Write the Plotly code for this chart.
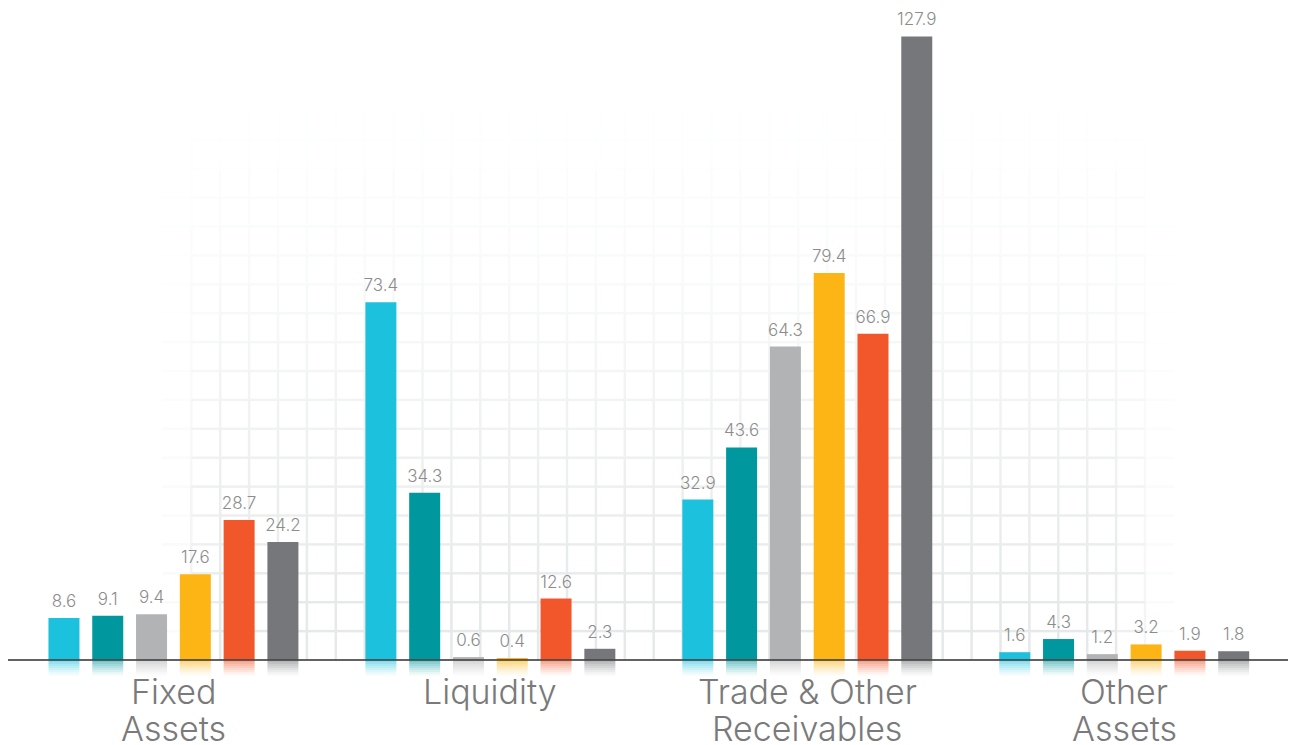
import numpy as np
import plotly.graph_objects as go

# ---------------- data ----------------
categories = ["Fixed Assets", "Liquidity", "Trade & Other Receivables", "Other Assets"]
label_line1 = ["Fixed", "Liquidity", "Trade & Other", "Other"]
label_line2 = ["Assets", "", "Receivables", "Assets"]

series_names = ["Series 1", "Series 2", "Series 3", "Series 4", "Series 5", "Series 6"]
series_1 = [8.6, 73.4, 32.9, 1.6]
series_2 = [9.1, 34.3, 43.6, 4.3]
series_3 = [9.4, 0.6, 64.3, 1.2]
series_4 = [17.6, 0.4, 79.4, 3.2]
series_5 = [28.7, 12.6, 66.9, 1.9]
series_6 = [24.2, 2.3, 127.9, 1.8]
series_values = [series_1, series_2, series_3, series_4, series_5, series_6]

colors = ["#1CC1DE", "#00979F", "#B2B3B5", "#FDB515", "#F1572A", "#76777B"]

# ---------------- style ----------------
# the page places the figure 8px from the top-left corner (default body margin)
W, H = 1288, 737
FONT = "Inter"
PX_PER_UNIT = 4.875
BASE_PX = 652
Y_RANGE = [-(H - BASE_PX) / PX_PER_UNIT, BASE_PX / PX_PER_UNIT]
X_RANGE = [-0.522, 3.542]
REFL_UNITS = 16 / PX_PER_UNIT
REFL_STEPS = 8
LABEL_GAP_UNITS = 4 / PX_PER_UNIT


def hex_rgb(h):
    h = h.lstrip("#")
    return tuple(int(h[i:i + 2], 16) for i in (0, 2, 4))


fig = go.Figure()

# ---------------- faint fading background grid (pixel axes x / y) ----------------
step = 28.9
vx = 183.3 + step * np.arange(-1, 35)
hy = BASE_PX - step * np.arange(0, 21)
grid_rgb = (230, 233, 233)
NQ = 16


def grid_alpha(x, y):
    ax = np.clip((x - 155) / 50, 0, 1) * np.clip((1165 - x) / 60, 0, 1)
    ay = np.clip((y - 62) / 540, 0, 1) ** 1.4
    return float(ax * ay)


levels = {}
for x in vx:
    for j in range(len(hy) - 1):
        a = grid_alpha(x, (hy[j] + hy[j + 1]) / 2)
        q = int(round(a * NQ))
        if q <= 0:
            continue
        levels.setdefault(q, ([], []))
        levels[q][0].extend([x, x, None])
        levels[q][1].extend([hy[j], hy[j + 1], None])
for y in hy[1:]:
    for i in range(len(vx) - 1):
        a = grid_alpha((vx[i] + vx[i + 1]) / 2, y)
        q = int(round(a * NQ))
        if q <= 0:
            continue
        levels.setdefault(q, ([], []))
        levels[q][0].extend([vx[i], vx[i + 1], None])
        levels[q][1].extend([y, y, None])

for q, (xs, ys) in sorted(levels.items()):
    a = q / NQ
    c = tuple(int(round(255 * (1 - a) + g * a)) for g in grid_rgb)
    fig.add_trace(go.Scatter(
        x=xs, y=ys, mode="lines", xaxis="x", yaxis="y",
        line=dict(color="rgb(%d,%d,%d)" % c, width=2.5),
        hoverinfo="skip", showlegend=False,
    ))

# ---------------- bars (overlay axes x2 / y2) ----------------
for i, (name, vals, col) in enumerate(zip(series_names, series_values, colors)):
    r, g, b = hex_rgb(col)
    # reflections below the baseline
    for k in range(REFL_STEPS):
        op = 0.55 * (1 - k / REFL_STEPS) ** 1.3
        seg = REFL_UNITS / REFL_STEPS
        fig.add_trace(go.Bar(
            x=categories, y=[seg] * len(vals), base=[-(k + 1) * seg] * len(vals),
            xaxis="x2", yaxis="y2", offsetgroup=str(i),
            marker=dict(color="rgba(%d,%d,%d,%.3f)" % (r, g, b, op), line=dict(width=0)),
            hoverinfo="skip", showlegend=False,
        ))
    fig.add_trace(go.Bar(
        x=categories, y=vals, name=name, xaxis="x2", yaxis="y2", offsetgroup=str(i),
        marker=dict(color=col, line=dict(width=0)),
        showlegend=False,
    ))
    # transparent spacer carrying the value label a little above the bar
    fig.add_trace(go.Bar(
        x=categories, y=[LABEL_GAP_UNITS] * len(vals), base=vals,
        xaxis="x2", yaxis="y2", offsetgroup=str(i),
        marker=dict(color="rgba(0,0,0,0)", line=dict(width=0)),
        text=[f"{v:.1f}" for v in vals], textposition="outside",
        textfont=dict(family=FONT, size=17, color="#8C8C8C", weight=300),
        constraintext="none", cliponaxis=False, hoverinfo="skip", showlegend=False,
    ))

# ---------------- category labels ----------------
annotations = []
for cat, l1, l2 in zip(categories, label_line1, label_line2):
    for txt, ypx in ((l1, 683), (l2, 720)):
        if not txt:
            continue
        annotations.append(dict(
            x=cat, y=ypx, xref="x2", yref="y", text=txt, showarrow=False,
            xanchor="center", yanchor="middle",
            font=dict(family=FONT, size=34, color="#7A7A7A", weight=300),
        ))

fig.update_layout(
    width=W, height=H, margin=dict(l=0, r=0, t=0, b=0),
    paper_bgcolor="white", plot_bgcolor="white",
    barmode="group", bargap=0.171, bargroupgap=0.292,
    showlegend=False, hovermode=False,
    xaxis=dict(range=[0, W], visible=False, fixedrange=True),
    yaxis=dict(range=[H, 0], visible=False, fixedrange=True),
    xaxis2=dict(overlaying="x", range=X_RANGE, visible=False, type="category"),
    yaxis2=dict(overlaying="y", range=Y_RANGE, visible=False),
    annotations=annotations,
    shapes=[dict(type="line", xref="paper", x0=0, x1=1, yref="y2", y0=0, y1=0,
                 line=dict(color="rgba(70,70,70,0.85)", width=2), layer="above")],
)

fig.write_html("out.html")
